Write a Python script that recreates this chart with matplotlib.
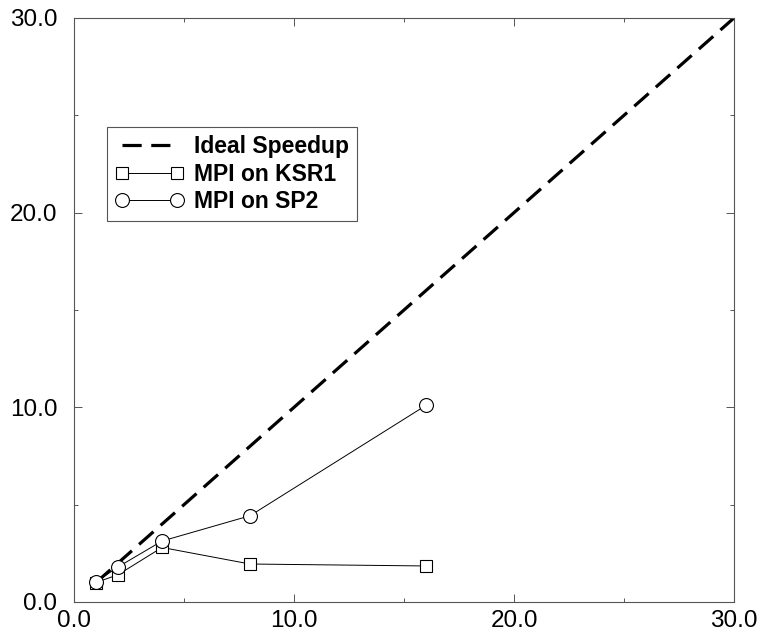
import numpy as np
import matplotlib
matplotlib.use('Agg')
import matplotlib.pyplot as plt

## Data
procs = [1, 2, 4, 8, 16]
ksr1_speedup = [1.0, 1.4, 2.8, 1.95, 1.85]
sp2_speedup = [1.03, 1.8, 3.13, 4.43, 10.1]
ideal_x = [1, 30]
ideal_y = [1, 30]
tick_vals = [0, 10, 20, 30]
tick_labels = ['0.0', '10.0', '20.0', '30.0']

plt.rcParams['font.family'] = ['Liberation Sans', 'DejaVu Sans']

fig = plt.figure(figsize=(7.6, 6.35), dpi=100)
ax = fig.add_axes([0.0974, 0.052, 0.8684, 0.9197])

ax.plot(ideal_x, ideal_y, color='black', lw=2.3, dashes=(6, 3),
        label='Ideal Speedup', zorder=2)
ax.plot(procs, ksr1_speedup, color='black', lw=0.7, marker='s', ms=8,
        mfc='white', mec='black', mew=0.8, label='MPI on KSR1', zorder=3)
ax.plot(procs, sp2_speedup, color='black', lw=0.7, marker='o', ms=10,
        mfc='white', mec='black', mew=0.8, label='MPI on SP2', zorder=4)

ax.set_xlim(0, 30)
ax.set_ylim(0, 30)
ax.set_xticks(tick_vals)
ax.set_xticklabels(tick_labels)
ax.set_yticks(tick_vals)
ax.set_yticklabels(tick_labels)
ax.set_xticks([5, 15, 25], minor=True)
ax.set_yticks([5, 15, 25], minor=True)
ax.tick_params(which='both', direction='in', top=True, right=True,
               color='#555555', width=0.7)
ax.tick_params(which='major', length=6, labelsize=17.5)
ax.tick_params(axis='y', which='major', pad=12)
ax.tick_params(axis='x', which='major', pad=5.5)
ax.tick_params(which='minor', length=3)
for s in ax.spines.values():
    s.set_color('#555555')
    s.set_linewidth(0.8)

leg = ax.legend(loc='upper left', bbox_to_anchor=(0.05, 0.8134),
                borderaxespad=0, fancybox=False, framealpha=1,
                edgecolor='#555555', handlelength=3.0, handletextpad=0.45,
                labelspacing=0.2, borderpad=0.35, numpoints=2,
                prop={'weight': 'bold', 'size': 16.5})
leg.get_frame().set_linewidth(0.8)

plt.savefig('out.png', dpi=100)
